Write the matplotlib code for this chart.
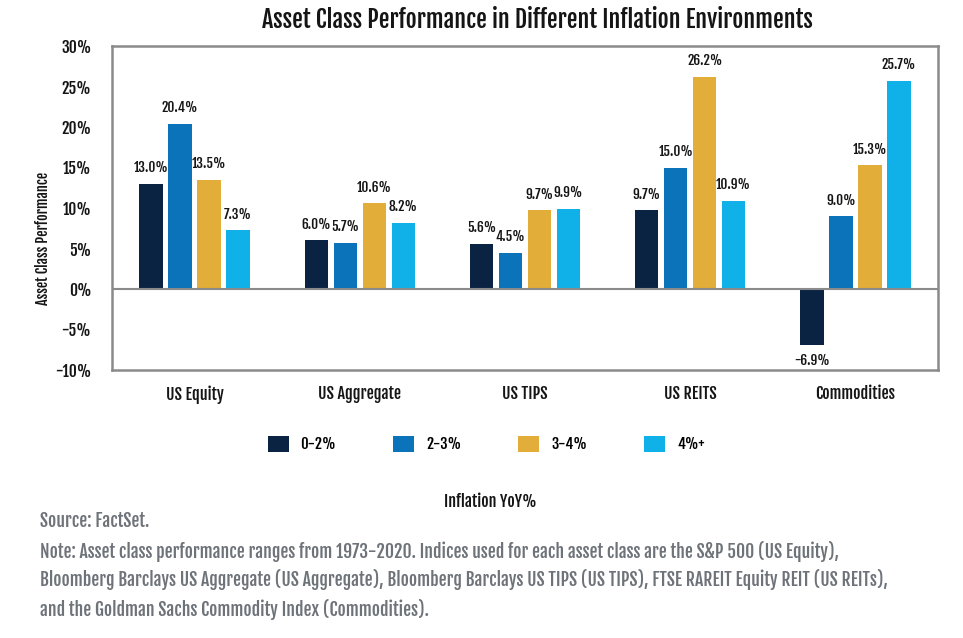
import matplotlib
matplotlib.use("Agg")
import matplotlib.pyplot as plt
from matplotlib import font_manager
from matplotlib.patches import Patch
import numpy as np

categories = ["US Equity", "US Aggregate", "US TIPS", "US REITS", "Commodities"]
series_names = ["0-2%", "2-3%", "3-4%", "4%+"]
v_0_2 = [13.0, 6.0, 5.6, 9.7, -6.9]
v_2_3 = [20.4, 5.7, 4.5, 15.0, 9.0]
v_3_4 = [13.5, 10.6, 9.7, 26.2, 15.3]
v_4p = [7.3, 8.2, 9.9, 10.9, 25.7]
yticks = [-10, -5, 0, 5, 10, 15, 20, 25, 30]
title = "Asset Class Performance in Different Inflation Environments"
ylabel = "Asset Class Performance"
legend_title = "Inflation YoY%"
notes = [
    "Source: FactSet.",
    "Note: Asset class performance ranges from 1973-2020. Indices used for each asset class are the S&P 500 (US Equity),",
    "Bloomberg Barclays US Aggregate (US Aggregate), Bloomberg Barclays US TIPS (US TIPS), FTSE RAREIT Equity REIT (US REITs),",
    "and the Goldman Sachs Commodity Index (Commodities).",
]

colors = ["#0b2343", "#0a73ba", "#e2ad38", "#10b1e8"]
gray_text = "#6e7379"
dark_text = "#151515"

# pick a bold condensed face that is installed
weights_by_name = {}
for f in font_manager.fontManager.ttflist:
    weights_by_name.setdefault(f.name, set()).add(f.weight if isinstance(f.weight, int) else 400)

FAM, WEIGHT = "DejaVu Sans", "bold"
choices = [("Fjalla One", None), ("Oswald", 600), ("Roboto Condensed", 600),
           ("Saira Condensed", 600), ("Archivo Narrow", 600), ("Barlow Condensed", 600)]
for name, minw in choices:
    if name in weights_by_name:
        ws = weights_by_name[name]
        if minw is None:
            FAM, WEIGHT = name, "normal"
            break
        good = sorted(w for w in ws if w >= minw)
        if good:
            FAM, WEIGHT = name, good[0]
            break
TITLE_WEIGHT = WEIGHT
plt.rcParams["font.family"] = [FAM, "DejaVu Sans"]

fig = plt.figure(figsize=(9.63, 6.38), dpi=100)
renderer = fig.canvas.get_renderer()


def fit_size(text, target_px, weight=WEIGHT):
    t = fig.text(0, 0, text, fontsize=20, fontweight=weight)
    w = t.get_window_extent(renderer=renderer).width
    t.remove()
    return 20 * target_px / w


fs_title = fit_size(title, 523, TITLE_WEIGHT) * 1.05
fs_val = fit_size("13.0%", 32) * 1.08
fs_tick = fit_size("30%", 27) * 1.12
fs_cat = fit_size("Commodities", 73) * 1.1
fs_leg = fit_size("0-2%", 32) * 1.1
fs_legt = fit_size(legend_title, 84) * 1.1
fs_ylab = fit_size(ylabel, 127) * 1.05
fs_note = fit_size(notes[2], 829) * 1.02

ax = fig.add_axes([112 / 963, 1 - 370 / 638, 826 / 963, 324 / 638])

all_series = [v_0_2, v_2_3, v_3_4, v_4p]
x = np.arange(len(categories))
pitch = 0.1755
width = 0.142
for i, (vals, c) in enumerate(zip(all_series, colors)):
    pos = x + (i - 1.5) * pitch
    ax.bar(pos, vals, width=width, color=c, zorder=2)
    for px, v in zip(pos, vals):
        if v >= 0:
            ax.annotate(f"{v:.1f}%", (px, v), xytext=(0, 6), textcoords="offset points",
                        ha="center", va="bottom", fontsize=fs_val, fontweight=WEIGHT, color=dark_text)
        else:
            ax.annotate(f"{v:.1f}%", (px, v), xytext=(0, -6), textcoords="offset points",
                        ha="center", va="top", fontsize=fs_val, fontweight=WEIGHT, color=dark_text)

ax.set_xlim(-0.5, 4.5)
ax.set_ylim(-10, 30)
ax.set_yticks(yticks)
ax.set_yticklabels([f"{t}%" for t in yticks])
ax.set_xticks(x)
ax.set_xticklabels(categories)
for lab in ax.get_yticklabels():
    lab.set_fontsize(fs_tick)
    lab.set_fontweight(WEIGHT)
for lab in ax.get_xticklabels():
    lab.set_fontsize(fs_cat)
    lab.set_fontweight(WEIGHT)
ax.tick_params(axis="both", length=0, colors=dark_text)
ax.tick_params(axis="y", pad=15)
ax.tick_params(axis="x", pad=11)
ax.axhline(0, color="#8a8a8a", lw=1.5, zorder=3)
for s in ax.spines.values():
    s.set_color("#8a8a8a")
    s.set_linewidth(1.8)

fig.text(43 / 963, 1 - 238 / 638, ylabel, rotation=90, ha="center", va="center",
         fontsize=fs_ylab, fontweight=WEIGHT, color=dark_text)

fig.text(537 / 963, 1 - 20 / 638, title, ha="center", va="center", fontsize=fs_title,
         fontweight=TITLE_WEIGHT, color=dark_text)

handles = [Patch(facecolor=c, edgecolor="none") for c in colors]
leg_px = fs_leg * 100 / 72
fig.legend(handles, series_names, loc="center", bbox_to_anchor=(486 / 963, 1 - 444 / 638),
           ncol=4, frameon=False, prop={"size": fs_leg, "weight": WEIGHT, "family": [FAM, "DejaVu Sans"]},
           handlelength=21 / leg_px, handleheight=18 / leg_px,
           handletextpad=12 / leg_px, columnspacing=57 / leg_px)

fig.text(490 / 963, 1 - 502 / 638, legend_title, ha="center", va="center", fontsize=fs_legt,
         fontweight=WEIGHT, color=dark_text)

ys = [521, 551, 580, 609]
for t, yy in zip(notes, ys):
    fig.text(40 / 963, 1 - yy / 638, t, ha="left", va="center", fontsize=fs_note,
             fontweight=WEIGHT, color=gray_text)

fig.savefig("out.png", dpi=100)
